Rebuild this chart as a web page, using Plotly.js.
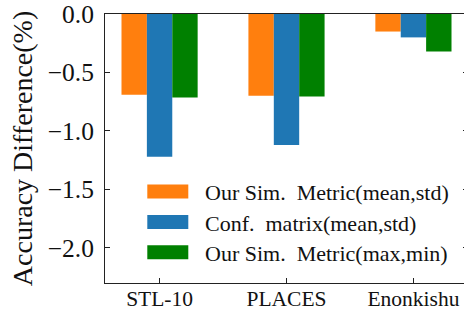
<!DOCTYPE html>
<html>
<head>
<meta charset="utf-8">
<script src="https://cdn.plot.ly/plotly-3.0.1.min.js"></script>
<style>
html,body{margin:0;padding:0;overflow:hidden;background:#fff;width:464px;height:310px;}
#chart{width:468px;height:310px;}
</style>
</head>
<body>
<div id="chart"></div>
<script>
// ---- data ----
var categories = ["STL-10", "PLACES", "Enonkishu"];
var seriesNames = ["Our Sim.\u00a0\u00a0Metric(mean,std)", "Conf.\u00a0\u00a0matrix(mean,std)", "Our Sim.\u00a0\u00a0Metric(max,min)"];
var simMeanStd = [-0.69, -0.70, -0.15];
var confMeanStd = [-1.22, -1.12, -0.20];
var simMaxMin = [-0.715, -0.705, -0.32];
var yTickVals = [0, -0.5, -1.0, -1.5, -2.0];

var colors = ["#ff7f0e", "#1f77b4", "#008000"];
var values = [simMeanStd, confMeanStd, simMaxMin];
var xIdx = categories.map(function(_, i){ return i; });

var traces = values.map(function(v, k){
  return {type: "bar", x: xIdx, y: v, name: seriesNames[k],
          marker: {color: colors[k], line: {width: 0}}, showlegend: false, hoverinfo: "none"};
});

var W = 468, H = 310, L = 105, R = 0, T = 14, B = 27;
var pw = W - L - R, ph = H - T - B;
function px2x(p){ return (p - L) / pw; }
function px2y(p){ return 1 - (p - T) / ph; }

var serif = "Liberation Serif";
var shapes = [], annotations = [];
var rowY = [191.5, 222, 252.3];
for (var k = 0; k < 3; k++) {
  shapes.push({type: "rect", xref: "paper", yref: "paper",
    x0: px2x(147.3), x1: px2x(188.3), y0: px2y(rowY[k] - 7), y1: px2y(rowY[k] + 7),
    fillcolor: colors[k], line: {width: 0}});
  annotations.push({xref: "paper", yref: "paper", x: px2x(203), y: px2y(rowY[k] + 1),
    xanchor: "left", yanchor: "middle", showarrow: false, text: seriesNames[k],
    font: {family: serif, size: 22, color: "#111"}});
}

var layout = {
  width: W, height: H,
  margin: {l: L, r: R, t: T, b: B, pad: 0},
  paper_bgcolor: "#fff", plot_bgcolor: "#fff",
  barmode: "group", bargap: 0.4, bargroupgap: 0,
  font: {family: serif, color: "#111"},
  xaxis: {range: [-0.43, 2.43], tickvals: xIdx, ticktext: categories,
    ticks: "inside", ticklen: 5, tickwidth: 1, tickcolor: "#222",
    showline: true, linecolor: "#222", linewidth: 1, mirror: true,
    showgrid: false, zeroline: false, ticklabeloverflow: "allow", ticklabelstandoff: -4,
    tickfont: {family: serif, size: 21.5, color: "#111"}},
  yaxis: {range: [-2.3, 0], tickvals: yTickVals, tickformat: ".1f",
    ticks: "inside", ticklen: 5, tickwidth: 1, tickcolor: "#222",
    showline: true, linecolor: "#222", linewidth: 1, mirror: "ticks",
    showgrid: false, zeroline: false, ticklabelstandoff: 5, ticklabeloverflow: "allow",
    tickfont: {family: serif, size: 25.5, color: "#111"},
    title: {text: "Accuracy Difference(%)", standoff: 6, font: {family: serif, size: 28, color: "#111"}}},
  shapes: shapes, annotations: annotations
};

Plotly.newPlot("chart", traces, layout, {staticPlot: true, displayModeBar: false});
</script>
</body>
</html>
